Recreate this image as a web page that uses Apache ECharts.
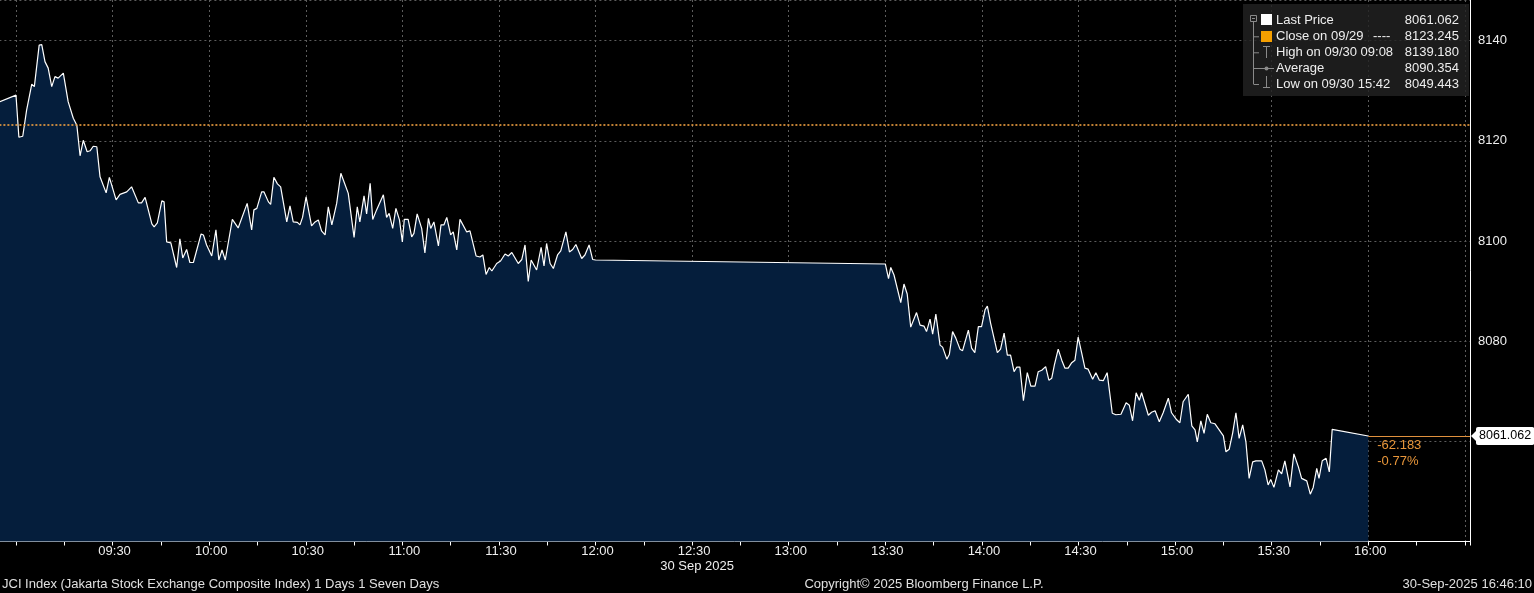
<!DOCTYPE html>
<html><head><meta charset="utf-8">
<script src="https://cdn.jsdelivr.net/npm/echarts@6/dist/echarts.min.js"></script>
<style>html,body{margin:0;padding:0;background:#000;}#c{width:1534px;height:593px;}</style>
</head><body><div id="c"></div>
<script>
// time in minutes since midnight (30 Sep 2025), JCI index values
const times = [
535.0,540.0,540.9,542.1,543.3,544.9,545.7,547.2,548.0,549.0,550.0,551.1,552.1,553.1,554.7,556.2,557.8,558.9,559.9,560.9,
562.1,563.0,564.0,565.1,566.1,568.0,569.0,571.1,572.3,574.4,575.9,578.0,579.0,580.1,582.2,582.9,583.9,585.3,586.0,586.8,
588.1,589.9,590.9,591.8,593.0,594.0,595.1,597.5,598.2,599.2,600.8,602.1,603.0,604.0,605.0,607.2,609.0,611.8,613.2,613.9,
614.8,616.3,617.0,618.4,619.1,620.1,621.2,622.2,624.1,625.1,626.1,627.4,628.2,629.0,630.1,631.8,632.9,633.9,634.9,636.0,
637.0,638.1,639.6,640.9,643.2,645.0,646.0,646.8,648.1,648.9,650.0,650.8,652.0,654.1,655.1,655.9,657.0,658.0,659.1,660.0,
660.6,661.8,662.9,663.6,664.6,666.0,667.0,668.1,668.8,669.8,671.2,672.0,672.9,673.8,675.0,675.8,676.9,677.9,680.0,681.0,
682.9,684.1,685.0,686.0,687.0,687.8,689.3,690.5,691.9,692.9,694.0,696.0,697.1,698.1,699.1,700.0,701.7,703.1,704.0,704.8,
705.9,706.9,708.2,709.2,709.8,710.8,711.9,712.9,713.9,715.7,716.7,718.0,719.1,720.0,
810.0,811.0,811.7,812.7,814.8,815.8,816.8,817.9,819.7,820.8,822.0,822.8,823.9,824.7,825.7,827.0,827.8,829.1,829.9,830.9,
831.9,833.2,834.0,835.8,836.8,837.8,838.9,839.9,841.0,841.7,842.7,844.8,845.8,846.9,847.9,848.9,850.0,850.8,851.8,852.9,
854.1,855.2,856.5,857.5,858.6,859.8,860.8,861.7,862.5,863.7,864.8,865.8,866.8,867.9,868.9,869.9,871.0,872.0,873.0,874.4,
875.4,876.5,877.7,878.9,880.5,881.6,883.2,884.8,885.8,886.8,887.9,888.9,889.6,891.7,892.7,893.8,895.1,896.3,897.9,898.9,
900.5,901.5,902.5,904.1,905.2,906.2,906.9,908.0,909.0,910.0,911.1,912.4,913.7,915.0,915.8,916.8,917.9,918.9,919.9,921.0,
922.0,923.0,924.1,925.1,926.9,927.9,928.9,929.7,930.7,932.1,933.1,934.1,935.7,936.9,938.3,939.3,940.9,942.0,942.9,944.0,
944.7,945.7,946.9,947.9,948.8,960.0
];
const prices = [
8127.8,8129.1,8120.7,8120.9,8126.1,8131.3,8130.8,8139.1,8139.18,8135.8,8134.5,8130.8,8132.8,8132.5,8133.5,8127.8,8124.5,8123.1,8117.0,8120.1,
8117.8,8118.0,8118.9,8118.8,8112.8,8109.6,8112.7,8108.2,8109.3,8109.8,8110.8,8107.6,8107.6,8108.7,8103.4,8102.8,8103.6,8108.0,8107.8,8099.8,
8099.6,8094.7,8100.4,8096.6,8098.3,8095.7,8095.7,8101.4,8101.2,8099.2,8097.0,8102.2,8096.2,8098.2,8096.2,8104.3,8102.6,8107.5,8102.2,8106.2,
8106.5,8109.8,8109.8,8107.8,8107.3,8112.7,8111.4,8110.8,8103.8,8107.0,8103.8,8103.7,8103.2,8104.7,8108.8,8103.0,8103.8,8104.2,8102.0,8101.2,
8106.8,8103.2,8107.5,8113.5,8109.5,8100.7,8106.8,8103.8,8109.0,8105.4,8111.5,8104.3,8106.2,8109.2,8104.7,8105.5,8102.5,8106.5,8104.2,8099.8,
8104.3,8104.3,8100.8,8101.5,8105.4,8102.5,8097.6,8104.5,8102.5,8103.8,8099.0,8103.2,8103.2,8104.7,8101.2,8101.8,8098.2,8104.3,8101.8,8102.0,
8097.0,8096.8,8097.2,8093.3,8094.7,8094.0,8095.5,8096.0,8097.4,8097.0,8097.7,8095.5,8096.3,8099.2,8091.9,8096.2,8094.2,8098.7,8095.0,8099.5,
8095.5,8094.5,8097.2,8098.0,8098.0,8101.8,8097.8,8098.3,8099.3,8096.5,8097.2,8099.2,8096.3,8096.2,
8095.4,8092.5,8094.7,8093.2,8087.7,8091.4,8089.4,8082.8,8085.7,8083.2,8083.0,8081.9,8084.4,8081.4,8085.4,8079.2,8078.8,8076.4,8077.4,8081.9,
8080.6,8078.4,8078.1,8082.2,8078.6,8077.7,8082.9,8082.9,8086.3,8087.0,8083.6,8077.7,8078.4,8081.6,8077.2,8077.2,8073.9,8074.8,8074.8,8068.1,
8073.7,8071.0,8071.0,8073.9,8074.2,8074.9,8072.2,8072.6,8075.2,8078.4,8076.2,8074.6,8074.6,8075.7,8076.2,8080.8,8077.6,8074.6,8074.4,8072.4,
8073.7,8072.2,8072.1,8073.7,8065.6,8065.3,8065.4,8067.7,8067.2,8064.1,8069.7,8068.2,8069.7,8065.2,8065.8,8066.1,8063.9,8065.7,8068.6,8065.7,
8064.3,8063.7,8067.9,8069.4,8063.1,8062.3,8059.9,8064.1,8061.6,8065.4,8063.7,8063.5,8062.3,8061.1,8057.9,8058.4,8061.7,8065.7,8060.6,8063.3,
8059.9,8052.6,8055.9,8056.1,8056.1,8054.3,8051.3,8052.4,8050.8,8054.3,8053.5,8056.1,8050.9,8057.5,8054.9,8052.6,8052.1,8049.443,8050.8,8054.6,
8052.6,8056.1,8056.6,8053.9,8062.4,8061.062
];
const prevClose = 8123.245;
const lastPrice = 8061.062;
const netChange = '-62.183';
const pctChange = '-0.77%';
const legendLabels = ['Last Price', 'Close on 09/29', 'High on 09/30 09:08', 'Average', 'Low on 09/30 15:42'];
const legendExtra = ['', '----', '', '', ''];
const legendValues = ['8061.062', '8123.245', '8139.180', '8090.354', '8049.443'];
const yTickLabels = [8060, 8080, 8100, 8120, 8140];
const xTickLabels = ['09:30','10:00','10:30','11:00','11:30','12:00','12:30','13:00','13:30','14:00','14:30','15:00','15:30','16:00'];
const dateLabel = '30 Sep 2025';
const footerLeft = 'JCI Index (Jakarta Stock Exchange Composite Index) 1 Days 1 Seven Days';
const footerMid = 'Copyright\u00a9 2025 Bloomberg Finance L.P.';
const footerRight = '30-Sep-2025 16:46:10';

const FONT = "'Liberation Sans', Arial, sans-serif";
const X_MIN = 510, X_MAX = 991.6;
function hhmm(v) {
  const m = Math.round(v);
  const h = Math.floor(m / 60), mm = m % 60;
  return String(h).padStart(2, '0') + ':' + String(mm).padStart(2, '0');
}
const chart = echarts.init(document.getElementById('c'), null, {renderer: 'canvas'});
const data = times.map((t, i) => [t, prices[i]]);
const lastT = times[times.length - 1];

const option = {
  backgroundColor: '#000',
  animation: false,
  grid: {left: -80.6, right: 64, top: 0, bottom: 51.5, containLabel: false, outerBoundsMode: 'none'},
  xAxis: {
    type: 'value', min: X_MIN, max: X_MAX, interval: 30,
    axisLine: {show: true, lineStyle: {color: '#ffffff', width: 1}},
    axisTick: {show: true, length: 4, lineStyle: {color: '#ffffff'}},
    minorTick: {show: true, splitNumber: 2, length: 4, lineStyle: {color: '#ffffff'}},
    splitLine: {show: true, lineStyle: {color: '#5c5c5c', type: [2, 3], width: 1}},
    axisLabel: {
      color: '#eeeeee', fontSize: 13, fontFamily: FONT, margin: 3, padding: [0, 0, 0, 4],
      showMinLabel: true, showMaxLabel: true, hideOverlap: false,
      formatter: v => { const s = hhmm(v); return xTickLabels.includes(s) && Math.abs(v - Math.round(v)) < 1e-6 ? s : ''; }
    }
  },
  yAxis: {
    type: 'value', position: 'right', min: 8040, max: 8148.1, interval: 20,
    axisLine: {show: true, lineStyle: {color: '#ffffff', width: 1}},
    axisTick: {show: false},
    splitLine: {show: true, lineStyle: {color: '#5c5c5c', type: [2, 3], width: 1}},
    axisLabel: {
      color: '#eeeeee', fontSize: 13, fontFamily: FONT, margin: 8,
      formatter: v => yTickLabels.includes(Math.round(v * 1000) / 1000) ? String(v) : ''
    }
  },
  series: [{
    type: 'line', data: data, showSymbol: false, symbol: 'none',
    lineStyle: {color: '#ffffff', width: 1.2},
    areaStyle: {color: '#051e3c', opacity: 1, origin: 'start'},
    z: 3,
    markLine: {
      silent: true, symbol: ['none', 'none'], animation: false,
      data: [
        {yAxis: prevClose, lineStyle: {color: '#f0a040', type: [2, 2], width: 1.6}, label: {show: false}},
        [
          {coord: [lastT, lastPrice], lineStyle: {color: '#e0913e', type: 'solid', width: 1},
           label: {show: true, position: 'end', formatter: lastPrice.toFixed(3), backgroundColor: '#ffffff',
                   color: '#000000', fontSize: 12.5, fontFamily: FONT, padding: [3, 3, 2, 3], borderRadius: 2, distance: 6}},
          {coord: [X_MAX, lastPrice]}
        ]
      ]
    }
  }]
};
chart.setOption(option);

const p = chart.convertToPixel({gridIndex: 0}, [lastT, lastPrice]);
const pEnd = chart.convertToPixel({gridIndex: 0}, [X_MAX, lastPrice]);
const pDate = chart.convertToPixel({gridIndex: 0}, [750, 8040]);
const g = [];
// tag arrow
g.push({type: 'polygon', shape: {points: [[pEnd[0] + 1, pEnd[1]], [pEnd[0] + 7, pEnd[1] - 6], [pEnd[0] + 7, pEnd[1] + 6]]}, style: {fill: '#ffffff'}, z: 100});
// change annotation
g.push({type: 'text', x: p[0] + 9, y: p[1] + 9, style: {text: netChange, fill: '#e8963a', fontSize: 13, fontFamily: FONT, verticalAlign: 'middle'}, z: 100});
g.push({type: 'text', x: p[0] + 9, y: p[1] + 25, style: {text: pctChange, fill: '#e8963a', fontSize: 13, fontFamily: FONT, verticalAlign: 'middle'}, z: 100});
// legend box
g.push({type: 'rect', shape: {x: 1243, y: 4, width: 226, height: 92}, style: {fill: 'rgba(34,34,34,0.82)'}, z: 90});
const rows = [20, 36.3, 52.3, 68, 84];
const tc = '#8a8a8a';
g.push({type: 'rect', shape: {x: 1250.5, y: 15.5, width: 6, height: 6}, style: {fill: 'none', stroke: tc, lineWidth: 1}, z: 95});
g.push({type: 'line', shape: {x1: 1252, y1: 18.5, x2: 1255, y2: 18.5}, style: {stroke: tc, lineWidth: 1}, z: 95});
g.push({type: 'line', shape: {x1: 1253.5, y1: 22, x2: 1253.5, y2: rows[4]}, style: {stroke: tc, lineWidth: 1}, z: 95});
for (let i = 1; i < 5; i++) {
  g.push({type: 'line', shape: {x1: 1253.5, y1: rows[i] + 0.5, x2: 1259, y2: rows[i] + 0.5}, style: {stroke: tc, lineWidth: 1}, z: 95});
}
g.push({type: 'rect', shape: {x: 1261, y: 14, width: 11, height: 11}, style: {fill: '#ffffff'}, z: 95});
g.push({type: 'rect', shape: {x: 1261, y: 31, width: 11, height: 11}, style: {fill: '#f59f00'}, z: 95});
g.push({type: 'line', shape: {x1: 1263, y1: 46.5, x2: 1270, y2: 46.5}, style: {stroke: tc, lineWidth: 1}, z: 95});
g.push({type: 'line', shape: {x1: 1266.5, y1: 46.5, x2: 1266.5, y2: 58}, style: {stroke: tc, lineWidth: 1}, z: 95});
g.push({type: 'line', shape: {x1: 1259, y1: 68.5, x2: 1274, y2: 68.5}, style: {stroke: tc, lineWidth: 1}, z: 95});
g.push({type: 'circle', shape: {cx: 1266.5, cy: 68.5, r: 2}, style: {fill: tc}, z: 96});
g.push({type: 'line', shape: {x1: 1266.5, y1: 76, x2: 1266.5, y2: 87.5}, style: {stroke: tc, lineWidth: 1}, z: 95});
g.push({type: 'line', shape: {x1: 1263, y1: 87.5, x2: 1270, y2: 87.5}, style: {stroke: tc, lineWidth: 1}, z: 95});
for (let i = 0; i < 5; i++) {
  g.push({type: 'text', x: 1276, y: rows[i], style: {text: legendLabels[i], fill: '#eeeeee', fontSize: 13, fontFamily: FONT, verticalAlign: 'middle'}, z: 96});
  if (legendExtra[i]) {
    g.push({type: 'text', x: 1373, y: rows[i], style: {text: legendExtra[i], fill: '#eeeeee', fontSize: 13, fontFamily: FONT, verticalAlign: 'middle'}, z: 96});
  }
  g.push({type: 'text', x: 1459, y: rows[i], style: {text: legendValues[i], fill: '#eeeeee', fontSize: 13, fontFamily: FONT, align: 'right', verticalAlign: 'middle'}, z: 96});
}
// date under axis & footer
g.push({type: 'text', x: pDate[0] + 5, y: 566, style: {text: dateLabel, fill: '#eeeeee', fontSize: 13, fontFamily: FONT, align: 'center', verticalAlign: 'middle'}, z: 96});
g.push({type: 'text', x: 2, y: 584, style: {text: footerLeft, fill: '#e0e0e0', fontSize: 13, fontFamily: FONT, verticalAlign: 'middle'}, z: 96});
g.push({type: 'text', x: 924, y: 584, style: {text: footerMid, fill: '#e0e0e0', fontSize: 13, fontFamily: FONT, align: 'center', verticalAlign: 'middle'}, z: 96});
g.push({type: 'text', x: 1532, y: 584, style: {text: footerRight, fill: '#e0e0e0', fontSize: 13, fontFamily: FONT, align: 'right', verticalAlign: 'middle'}, z: 96});
chart.setOption({graphic: g});
</script>
</body></html>
